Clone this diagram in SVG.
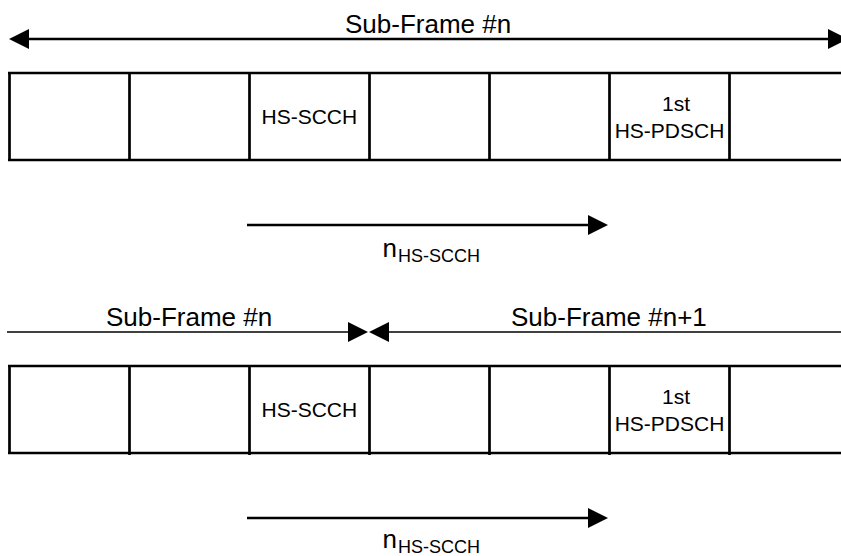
<svg xmlns="http://www.w3.org/2000/svg" width="841" height="556" viewBox="0 0 841 556">
<style>
  .frame{fill:none;stroke:#000;stroke-width:2.7}
  .t{font-family:"Liberation Sans",Arial,sans-serif;fill:#000}
  .title{font-size:26px}
  .cell{font-size:21px}
  .sub{font-size:18px}
  .ln{stroke:#000;fill:none}
  .head{fill:#000;stroke:none}
</style>
<rect width="841" height="556" fill="#fff"/>

<!-- Top frame -->
<g id="frame-top">
  <path class="frame" d="M8,73 H845 M8,160 H845 M9.5,73 V160 M129.5,73 V160 M249.5,73 V160 M369.5,73 V160 M489.5,73 V160 M609.5,73 V160 M729.5,73 V160"/>
</g>
<g id="top-hs-scch"><text class="t cell" x="261.5" y="124">HS-SCCH</text></g>
<g id="top-hs-pdsch">
  <text class="t cell" x="676" y="111" text-anchor="middle">1st</text>
  <text class="t cell" x="669.5" y="138" text-anchor="middle">HS-PDSCH</text>
</g>

<!-- Bottom frame -->
<g id="frame-bottom">
  <path class="frame" d="M8,366 H845 M8,453 H845 M9.5,366 V454 M129.5,366 V455 M249.5,366 V455 M369.5,366 V455 M489.5,366 V455 M609.5,366 V455 M729.5,366 V455"/>
</g>
<g id="bottom-hs-scch"><text class="t cell" x="261.5" y="417">HS-SCCH</text></g>
<g id="bottom-hs-pdsch">
  <text class="t cell" x="676" y="404" text-anchor="middle">1st</text>
  <text class="t cell" x="669.5" y="431" text-anchor="middle">HS-PDSCH</text>
</g>

<!-- Labels -->
<g id="labels">
  <text class="t title" x="345" y="33">Sub-Frame #n</text>
  <text class="t title" x="106" y="326">Sub-Frame #n</text>
  <text class="t title" x="511" y="326">Sub-Frame #n+1</text>
  <text class="t"><tspan class="title" x="382.5" y="257">n</tspan><tspan class="sub" x="398" y="262">HS-SCCH</tspan></text>
  <text class="t"><tspan class="title" x="382.5" y="548">n</tspan><tspan class="sub" x="398" y="553">HS-SCCH</tspan></text>
</g>

<!-- Connectors -->
<g id="connectors">
  <line class="ln" x1="27" y1="39" x2="830" y2="39" stroke-width="2.5"/>
  <polygon class="head" points="9,39 29,29 29,49"/>
  <polygon class="head" points="848,39 828,29 828,49"/>

  <line class="ln" x1="247" y1="225" x2="590" y2="225" stroke-width="2.5"/>
  <polygon class="head" points="608,225 588,215 588,235"/>

  <line class="ln" x1="247" y1="518" x2="590" y2="518" stroke-width="2.5"/>
  <polygon class="head" points="608,518 588,508 588,528"/>

  <line class="ln" x1="7" y1="332" x2="350" y2="332" stroke-width="1.7"/>
  <polygon class="head" points="368,332 348,322 348,342"/>
  <line class="ln" x1="387" y1="332" x2="841" y2="332" stroke-width="1.7"/>
  <polygon class="head" points="369,332 389,322 389,342"/>
</g>
</svg>
